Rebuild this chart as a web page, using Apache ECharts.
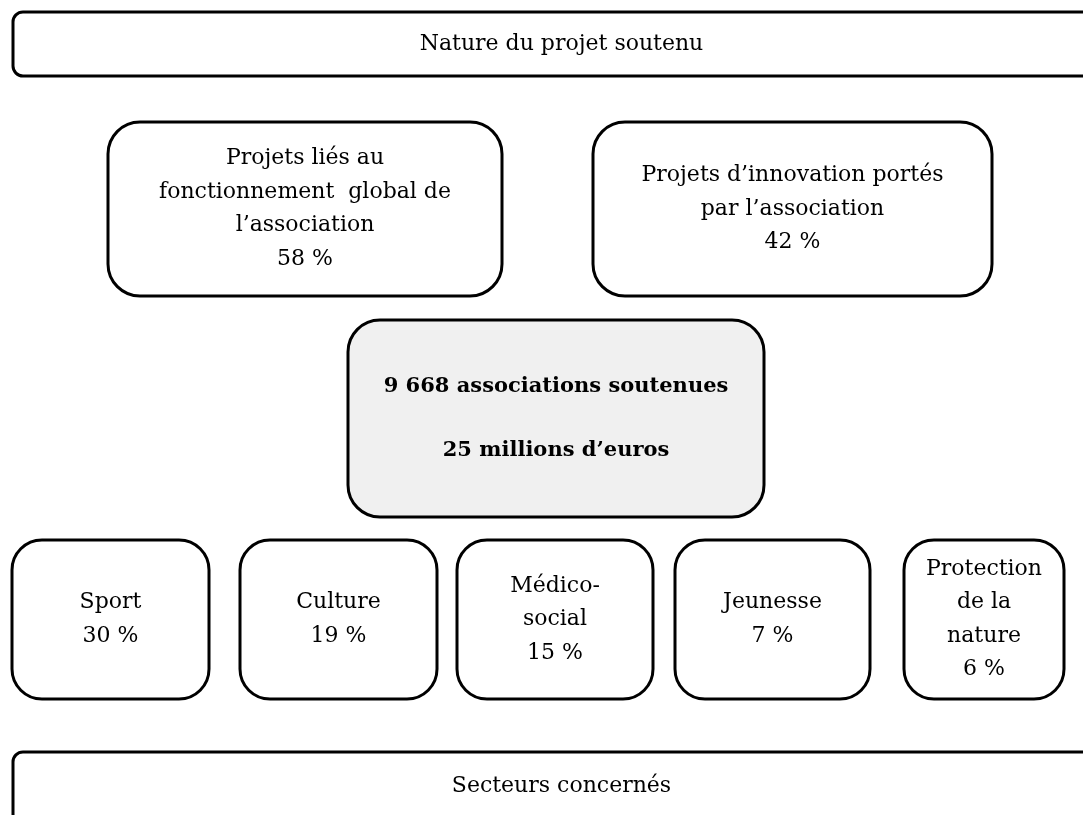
<!DOCTYPE html>
<html>
<head>
<meta charset="utf-8">
<script src="https://cdn.jsdelivr.net/npm/echarts@6/dist/echarts.min.js"></script>
<style>
  html, body { margin: 0; padding: 0; background: #fff; }
  #diagram { width: 1083px; height: 815px; }
</style>
</head>
<body>
<div id="diagram"></div>
<script>
const chart = echarts.init(document.getElementById('diagram'));

// texts and values
const topTitle = 'Nature du projet soutenu';
const bottomTitle = 'Secteurs concernés';
const projectTypes = ['Projets liés au\nfonctionnement  global de\nl\u2019association', 'Projets d\u2019innovation portés\npar l\u2019association'];
const projectShares = [58, 42];
const associationsCount = '9 668';
const budgetMillions = 25;
const sectors = ['Sport', 'Culture', 'Médico-\nsocial', 'Jeunesse', 'Protection\nde la\nnature'];
const sectorShares = [30, 19, 15, 7, 6];

// box layout in page units: [x0, y0, x1, y1, radius]
const titleBoxes = [[13, 12, 1110, 76, 10], [13, 752, 1110, 850, 10]];
const projectBoxes = [[108, 122, 502, 296, 32], [593, 122, 992, 296, 32]];
const centerBox = [348, 320, 764, 517, 32];
const sectorBoxes = [
  [12, 540, 209, 699, 30],
  [240, 540, 437, 699, 30],
  [457, 540, 653, 699, 30],
  [675, 540, 870, 699, 30],
  [904, 540, 1064, 699, 30]
];

function pct(v) { return v + ' %'; }

const items = [];
items.push({ value: titleBoxes[0], text: topTitle, title: true });
items.push({ value: titleBoxes[1], text: bottomTitle, title: true, ty: 786 });
projectTypes.forEach((t, i) => items.push({ value: projectBoxes[i], text: t + '\n' + pct(projectShares[i]) }));
items.push({ value: centerBox, text: associationsCount + ' associations soutenues\n\n' + budgetMillions + ' millions d\u2019euros', bold: true, fill: '#f0f0f0' });
sectors.forEach((t, i) => items.push({ value: sectorBoxes[i], text: t + '\n' + pct(sectorShares[i]) }));

const option = {
  animation: false,
  grid: { left: 0, right: 0, top: 0, bottom: 0 },
  xAxis: { type: 'value', min: 0, max: 1083, show: false },
  yAxis: { type: 'value', min: 0, max: 815, inverse: true, show: false },
  series: [{
    type: 'custom',
    clip: false,
    data: items.map(d => d.value),
    renderItem: function (params, api) {
      const d = items[params.dataIndex];
      const p0 = api.coord([api.value(0), api.value(1)]);
      const p1 = api.coord([api.value(2), api.value(3)]);
      const r = api.value(4);
      const cx = (p0[0] + p1[0]) / 2;
      const cy = d.ty ? api.coord([0, d.ty])[1] : (p0[1] + p1[1]) / 2;
      let font = '22px "DejaVu Serif", serif';
      if (d.bold) font = 'bold 21px "DejaVu Serif", serif';
      return {
        type: 'group',
        children: [{
          type: 'rect',
          shape: { x: p0[0], y: p0[1], width: p1[0] - p0[0], height: p1[1] - p0[1], r: r },
          style: { fill: d.fill || '#fff', stroke: '#000', lineWidth: 3 }
        }, {
          type: 'text',
          x: cx,
          y: cy,
          style: {
            text: d.text,
            fill: '#000',
            font: font,
            align: 'center',
            verticalAlign: 'middle',
            lineHeight: d.bold ? 32 : 33.5
          }
        }]
      };
    }
  }]
};

chart.setOption(option);
</script>
</body>
</html>
